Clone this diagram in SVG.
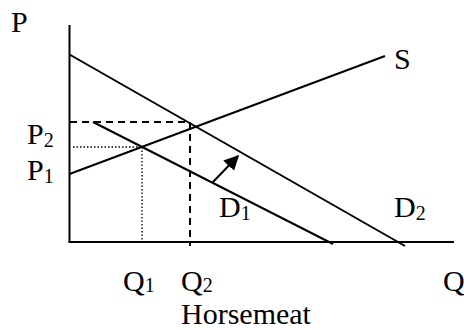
<svg xmlns="http://www.w3.org/2000/svg" width="464" height="330" viewBox="0 0 464 330">
<style>
text{font-family:"Liberation Serif","Times New Roman",serif;font-size:30px;fill:#000}
.sub{font-size:20px}
.ln{stroke:#000;stroke-width:2;fill:none}
.dash{stroke:#000;stroke-width:2;stroke-dasharray:7,5;fill:none}
.dot{stroke:#000;stroke-width:1.3;stroke-dasharray:1.5,2;fill:none}
</style>
<defs>
<marker id="ah" viewBox="0 0 10 10" refX="9" refY="5" markerWidth="7.5" markerHeight="7.5" orient="auto" markerUnits="strokeWidth">
<path d="M0,0 L10,5 L0,10 z" fill="#000"/>
</marker>
</defs>
<rect width="464" height="330" fill="#fff"/>
<g id="axes">
<line class="ln" x1="69.5" y1="25" x2="69.5" y2="242"/>
<line class="ln" x1="68.5" y1="242" x2="454" y2="242"/>
</g>
<g id="guides">
<line class="dash" x1="70" y1="122" x2="190" y2="122"/>
<line class="dash" x1="190" y1="122" x2="190" y2="246"/>
<line class="dot" x1="73" y1="147" x2="142" y2="147"/>
<line class="dot" x1="142" y1="147" x2="142" y2="242"/>
</g>
<g id="connectors">
<line id="S" class="ln" x1="69.5" y1="174" x2="385" y2="56"/>
<line id="D1" class="ln" x1="93" y1="122" x2="333" y2="244"/>
<line id="D2" class="ln" x1="69.5" y1="54.5" x2="405" y2="246"/>
<line id="shift" class="ln" x1="213" y1="182" x2="238" y2="156" marker-end="url(#ah)"/>
</g>
<g id="labels">
<text x="11" y="32">P</text>
<text x="27" y="144">P<tspan class="sub" dy="3">2</tspan></text>
<text x="27" y="180">P<tspan class="sub" dy="3">1</tspan></text>
<text x="394" y="69">S</text>
<text x="219" y="217">D<tspan class="sub" dy="3">1</tspan></text>
<text x="394" y="217">D<tspan class="sub" dy="3">2</tspan></text>
<text x="123" y="291">Q<tspan class="sub" dy="1">1</tspan></text>
<text x="181" y="291">Q<tspan class="sub" dy="1">2</tspan></text>
<text x="443" y="291">Q</text>
<text x="181" y="324">Horsemeat</text>
</g>
</svg>
